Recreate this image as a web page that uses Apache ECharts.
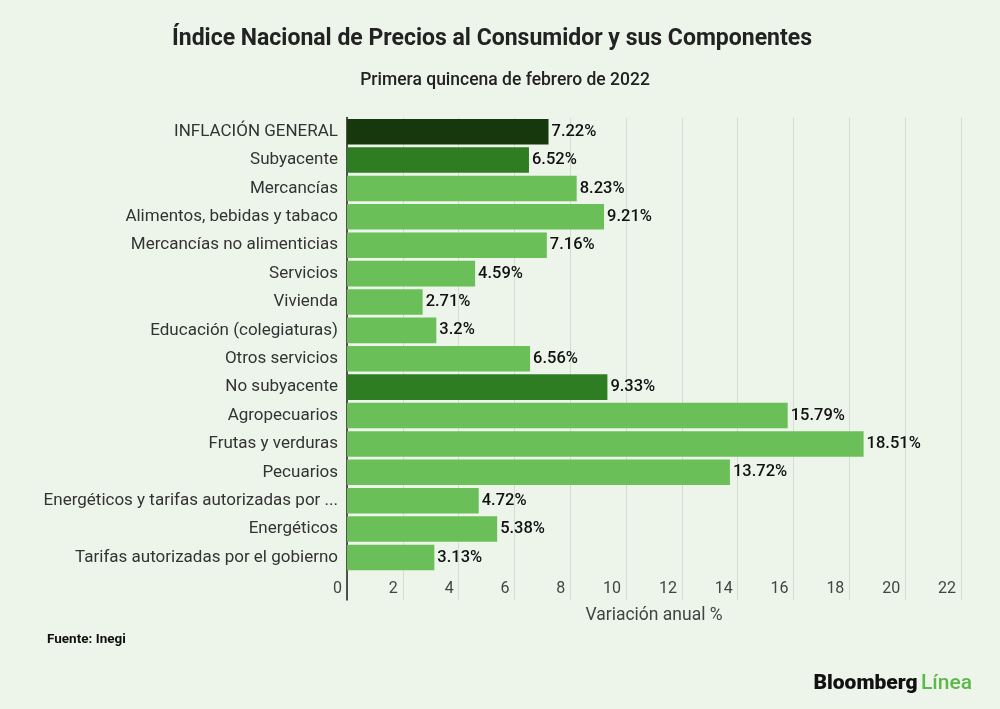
<!DOCTYPE html>
<html>
<head>
<meta charset="utf-8">
<script src="https://cdn.jsdelivr.net/npm/echarts@6/dist/echarts.min.js"></script>
<style>
html,body{margin:0;padding:0;background:#edf5ea;}
#chart{width:1000px;height:709px;}
</style>
</head>
<body>
<div id="chart"></div>
<script>
const categories = [
  "INFLACIÓN GENERAL",
  "Subyacente",
  "Mercancías",
  "Alimentos, bebidas y tabaco",
  "Mercancías no alimenticias",
  "Servicios",
  "Vivienda",
  "Educación (colegiaturas)",
  "Otros servicios",
  "No subyacente",
  "Agropecuarios",
  "Frutas y verduras",
  "Pecuarios",
  "Energéticos y tarifas autorizadas por ...",
  "Energéticos",
  "Tarifas autorizadas por el gobierno"
];
const values = [7.22, 6.52, 8.23, 9.21, 7.16, 4.59, 2.71, 3.2, 6.56, 9.33, 15.79, 18.51, 13.72, 4.72, 5.38, 3.13];
const levels = ["general", "main", "sub", "sub", "sub", "sub", "sub", "sub", "sub", "main", "sub", "sub", "sub", "sub", "sub", "sub"];
const xTicks = [0, 2, 4, 6, 8, 10, 12, 14, 16, 18, 20, 22];

const colorFor = { general: "#17380d", main: "#2e7d22", sub: "#6abf59" };
const FONT = "Roboto";

const chart = echarts.init(document.getElementById("chart"), null, { renderer: "canvas" });
chart.setOption({
  backgroundColor: "#edf5ea",
  textStyle: { fontFamily: FONT },
  title: [
    {
      text: "Índice Nacional de Precios al Consumidor y sus Componentes",
      left: 487, top: 23, textAlign: "center",
      textStyle: { fontFamily: FONT, fontSize: 23, fontWeight: "bold", color: "#222" }
    },
    {
      text: "Primera quincena de febrero de 2022",
      left: 500, top: 67, textAlign: "center",
      textStyle: { fontFamily: FONT, fontSize: 17.5, fontWeight: 500, color: "#222" }
    },
    {
      text: "Fuente: Inegi",
      left: 42, top: 628,
      textStyle: { fontFamily: FONT, fontSize: 13.5, fontWeight: "bold", color: "#111" }
    }
  ],
  grid: { left: 347, right: 39, top: 117.5, bottom: 109, containLabel: false },
  xAxis: {
    type: "value",
    min: xTicks[0],
    max: xTicks[xTicks.length - 1],
    interval: xTicks[1] - xTicks[0],
    axisLine: { show: false },
    axisTick: { show: false },
    splitLine: { show: true, lineStyle: { color: "#d6dbd3", width: 1 } },
    axisLabel: {
      inside: true, margin: 3, align: "right", padding: [0, 5, 0, 0],
      fontFamily: FONT, fontSize: 16, color: "#444"
    },
    name: "Variación anual %",
    nameLocation: "middle",
    nameGap: 7,
    nameTextStyle: { fontFamily: FONT, fontSize: 17.5, color: "#444", verticalAlign: "top" }
  },
  yAxis: {
    type: "category",
    data: categories,
    inverse: true,
    max: categories.length,
    axisLine: { show: true, lineStyle: { color: "#1e1e1e", width: 1.5 } },
    axisTick: { show: false },
    splitLine: { show: false },
    axisLabel: {
      margin: 9, fontFamily: FONT, fontSize: 17, color: "#333",
      formatter: function (v) { return categories.indexOf(v) >= 0 ? v : ""; }
    }
  },
  series: [{
    type: "bar",
    data: values.map(function (v, i) {
      return { value: v, itemStyle: { color: colorFor[levels[i]] } };
    }),
    barCategoryGap: "10%",
    label: {
      show: true, position: "right", distance: 3,
      formatter: function (p) { return p.value + "%"; },
      fontFamily: FONT, fontSize: 16.5, fontWeight: 500, color: "#111"
    },
    animation: false
  }],
  graphic: [{
    type: "text",
    right: 28, top: 673,
    style: {
      text: "{a|Bloomberg} {b|Línea}",
      rich: {
        a: { fontFamily: FONT, fontSize: 21, fontWeight: 900, fill: "#111" },
        b: { fontFamily: FONT, fontSize: 21, fontWeight: 500, fill: "#5cb848" }
      }
    }
  }],
  animation: false
});
</script>
</body>
</html>
